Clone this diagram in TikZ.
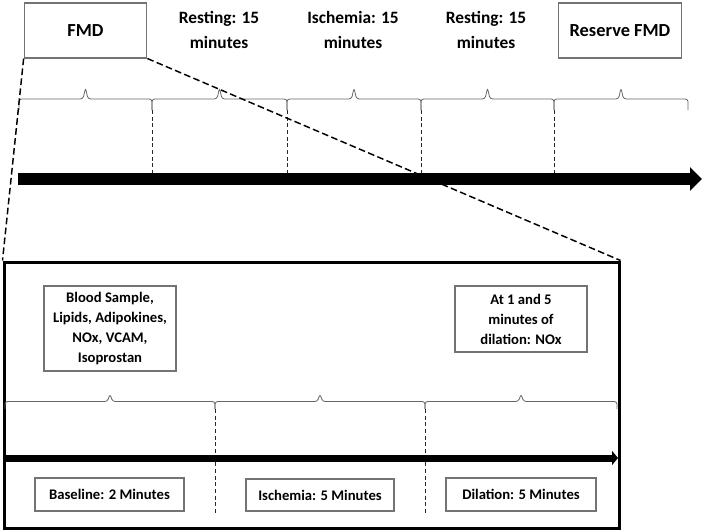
\documentclass[tikz,border=0pt]{standalone}
\usepackage{fontspec}
\setmainfont{Carlito}
\usetikzlibrary{arrows.meta, calc}

% brace from #1 to #2, raised by 2x #3 at its tip
\newcommand{\spanbrace}[3]{%
  \draw[span] (#1) -- ++(0,-#3) -- ($(#1)!0.5!(#2) + (-2.5,-#3)$) -- ($(#1)!0.5!(#2) + (0,-2*#3)$)
    -- ($(#1)!0.5!(#2) + (2.5,-#3)$) -- ($(#2) + (0,-#3)$) -- (#2);}

\begin{document}
\begin{tikzpicture}[
    x=0.75pt, y=-0.75pt,
    box/.style={draw=black!55, line width=0.8pt, align=center, inner sep=0pt, font=\bfseries\fontsize{11}{15}\selectfont},
    bigbox/.style={box, minimum width=92pt, minimum height=41.25pt, font=\bfseries\fontsize{13.8}{19}\selectfont},
    phase/.style={align=center, font=\bfseries\fontsize{13}{19}\selectfont},
    span/.style={draw=black!60, line width=0.6pt, rounded corners=2pt},
    divider/.style={line width=0.7pt, dash pattern=on 3pt off 2pt, black!85},
    zoomline/.style={line width=1.1pt, dash pattern=on 5pt off 2.5pt}
]
\useasboundingbox (0,0) rectangle (704,532);

% Nodes
\node[bigbox] (fmd) at (85.5,30.5) {FMD};
\node[phase] (rest1) at (219,30) {Resting: 15\\minutes};
\node[phase] (isch1) at (353,30) {Ischemia: 15\\minutes};
\node[phase] (rest2) at (486,30) {Resting: 15\\minutes};
\node[bigbox] (reserve) at (620,30.5) {Reserve FMD};

\node[draw, line width=2.25pt, minimum width=461.25pt, minimum height=199.5pt, inner sep=0pt] (detail) at (311.5,395) {};
\node[box, minimum width=99pt, minimum height=63.75pt] (blood) at (110,328.5) {Blood Sample,\\Lipids, Adipokines,\\NOx, VCAM,\\Isoprostan};
\node[box, minimum width=99pt, minimum height=49.5pt] (nox) at (521,319) {At 1 and 5\\minutes of\\dilation: NOx};
\node[box, minimum width=111.75pt, minimum height=24.75pt] (baseline) at (109.5,494.5) {Baseline: 2 Minutes};
\node[box, minimum width=111pt, minimum height=24pt] (ischemia) at (320,495) {Ischemia: 5 Minutes};
\node[box, minimum width=112.5pt, minimum height=24.75pt] (dilation) at (521,494.5) {Dilation: 5 Minutes};

% Timeline marks
\coordinate (start) at (18,179);
\coordinate (end) at (702,179);
\coordinate (t0) at (19,110);
\coordinate (t1) at (152,110);
\coordinate (t2) at (287,110);
\coordinate (t3) at (421,110);
\coordinate (t4) at (554,110);
\coordinate (t5) at (688,110);

\coordinate (dstart) at (5,458);
\coordinate (dend) at (618,458);
\coordinate (b0) at (5,409);
\coordinate (b1) at (215,409);
\coordinate (b2) at (425,409);
\coordinate (b3) at (617,409);

% Braces
\spanbrace{t0}{t1}{11}
\spanbrace{t1}{t2}{11}
\spanbrace{t2}{t3}{11}
\spanbrace{t3}{t4}{11}
\spanbrace{t4}{t5}{11}

\spanbrace{b0}{b1}{7.5}
\spanbrace{b1}{b2}{7.5}
\spanbrace{b2}{b3}{7.5}

% Arrows
\draw[divider] (t1) -- (t1 |- start);
\draw[divider] (t2) -- (t2 |- start);
\draw[divider] (t3) -- (t3 |- start);
\draw[divider] (t4) -- (t4 |- start);
\draw[divider] (b1) -- ++(0,104);
\draw[divider] (b2) -- ++(0,104);

\draw[line width=9pt, -{Triangle[length=9pt, width=17.25pt]}] (start) -- (end);
\draw[line width=5.25pt, -{Triangle[length=4.5pt, width=10.5pt]}] (dstart) -- (dend);

\draw[zoomline] (fmd.south west) -- (detail.north west);
\draw[zoomline] (fmd.south east) -- (detail.north east);

\end{tikzpicture}
\end{document}
